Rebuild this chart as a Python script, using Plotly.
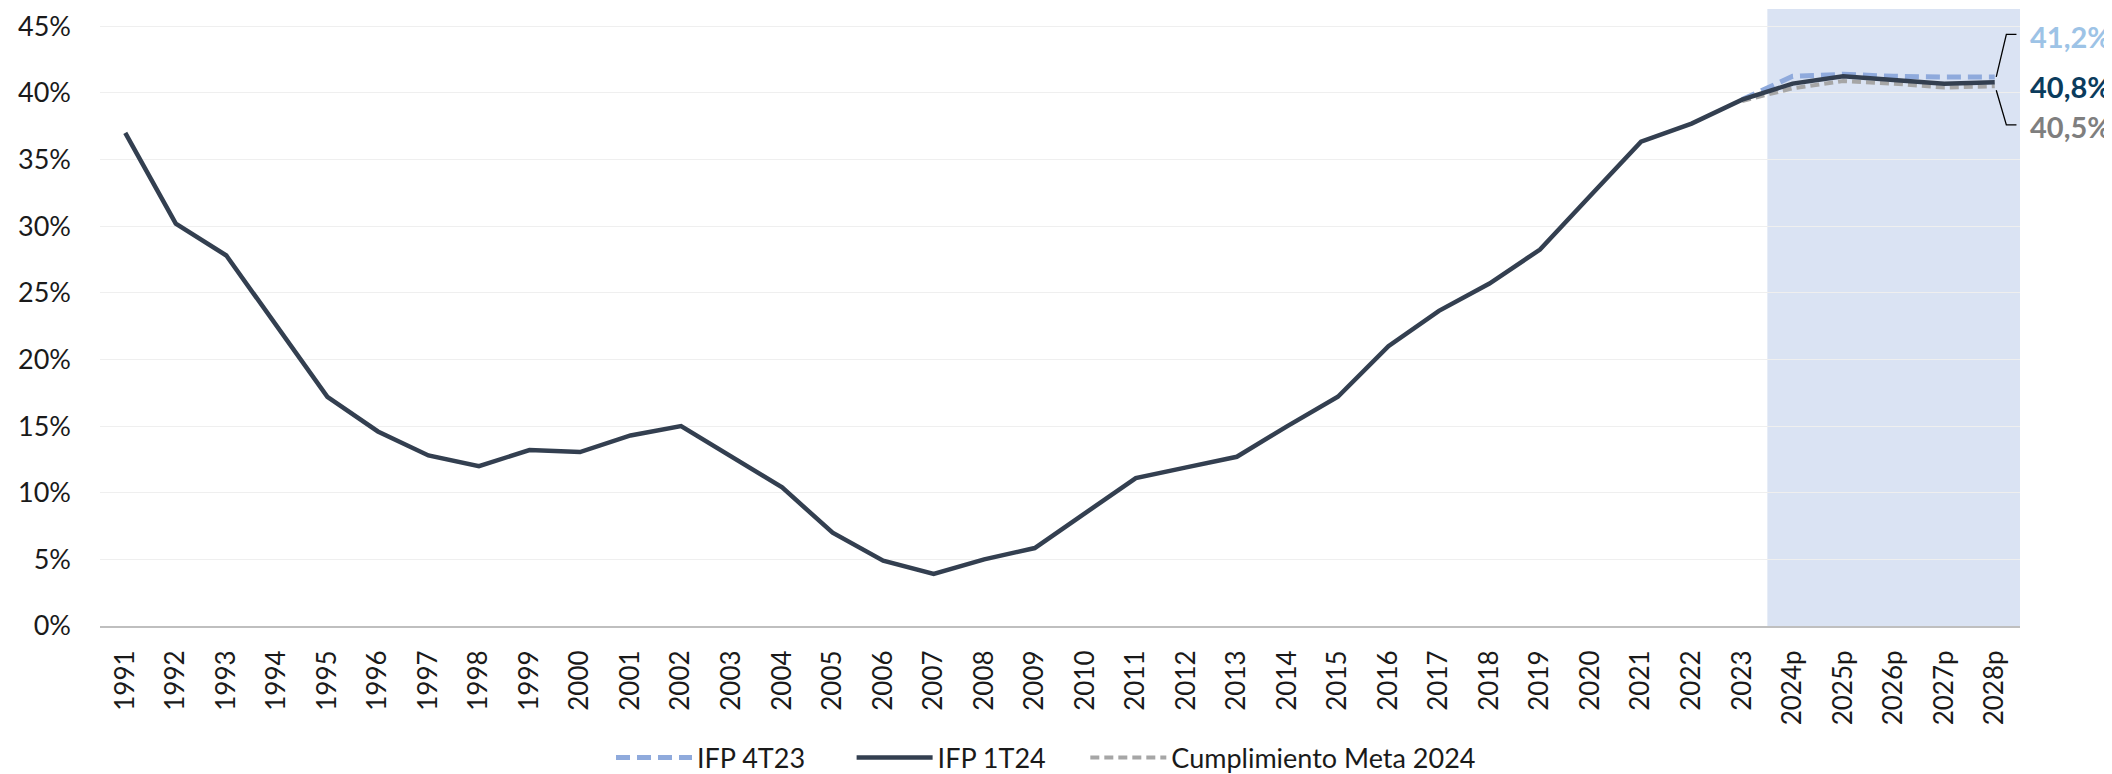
import plotly.graph_objects as go

years = [str(y) for y in range(1991, 2024)] + ["2024p", "2025p", "2026p", "2027p", "2028p"]

ifp_1t24 = [37.0, 30.2, 27.8, 22.5, 17.2, 14.6, 12.8, 12.0, 13.2, 13.05,
            14.3, 15.0, 12.7, 10.4, 7.0, 4.9, 3.9, 5.0, 5.85, 8.5,
            11.1, 11.9, 12.7, 15.0, 17.2, 21.0, 23.65, 25.7, 28.25, 32.3,
            36.35, 37.7, 39.5, 40.7, 41.25, 40.97, 40.7, 40.8]

ifp_4t23 = [None] * 32 + [39.5, 41.25, 41.4, 41.25, 41.2, 41.2]

meta_2024 = [None] * 32 + [39.4, 40.35, 40.9, 40.7, 40.4, 40.5]

y_ticks = [0, 5, 10, 15, 20, 25, 30, 35, 40, 45]
y_tick_text = [f"{v}%" for v in y_ticks]

C_BLUE = "#8FAADC"
C_DARK = "#333F50"
C_GRAY = "#A6A6A6"

FONT = "Lato"
NB = "\u00a0"

fig = go.Figure()

fig.add_trace(go.Scatter(
    x=years, y=ifp_4t23, name="IFP 4T23" + NB * 6, mode="lines",
    line=dict(color=C_BLUE, width=5, dash="14px,7px"),
    legendrank=1, connectgaps=False,
))
fig.add_trace(go.Scatter(
    x=years, y=meta_2024, name="Cumplimiento Meta 2024", mode="lines",
    line=dict(color=C_GRAY, width=4, dash="9px,5px"),
    legendrank=3, connectgaps=False,
))
fig.add_trace(go.Scatter(
    x=years, y=ifp_1t24, name="IFP 1T24" + NB * 5, mode="lines",
    line=dict(color=C_DARK, width=4.5),
    legendrank=2,
))

n = len(years)
# projection shading
fig.add_shape(type="rect", xref="x", yref="paper",
              x0=n - 5.5, x1=n - 0.5, y0=0, y1=1,
              fillcolor="#DAE3F3", line=dict(width=0), layer="below")

# end labels
def fmt(v):
    return f"{v:.1f}".replace(".", ",") + "%"

labels = [
    (fmt(ifp_4t23[-1]), "#9DC3E6", 44.2),
    (fmt(ifp_1t24[-1]), "#0B3C5D", 40.5),
    (fmt(meta_2024[-1]), "#7F7F7F", 37.5),
]
for txt, col, ypos in labels:
    fig.add_annotation(text=f"<b>{txt}</b>", xref="paper", yref="y",
                       x=1.004, y=ypos, xanchor="left", yanchor="middle",
                       showarrow=False,
                       font=dict(family=FONT, size=29, color=col))

# bracket connectors
last = n - 1
fig.add_shape(type="path", xref="x", yref="y",
              path=f"M {last + 0.43} 44.4 L {last + 0.23} 44.4 L {last + 0.03} 41.2",
              line=dict(color="#000000", width=1.3))
fig.add_shape(type="path", xref="x", yref="y",
              path=f"M {last + 0.03} 40.2 L {last + 0.23} 37.6 L {last + 0.43} 37.6",
              line=dict(color="#000000", width=1.3))

# page body has an 8px margin; figure is sized/offset to compensate
fig.update_layout(
    width=2104, height=800,
    margin=dict(l=92, r=92, t=1, b=182, autoexpand=False),
    paper_bgcolor="white", plot_bgcolor="white",
    font=dict(family=FONT, size=26, color="#1a1a1a"),
    showlegend=True,
    legend=dict(orientation="h", x=(603 - 92) / 1920, xanchor="left",
                y=-0.214, yanchor="middle",
                font=dict(family=FONT, size=27, color="#1a1a1a"),
                itemwidth=76,
                bgcolor="rgba(0,0,0,0)"),
)

fig.update_xaxes(type="category", categoryorder="array", categoryarray=years,
                 range=[-0.5, n - 0.5], tickangle=-90, automargin=False,
                 showgrid=False, showline=True, linecolor="#BFBFBF", linewidth=2,
                 ticks="", ticklabelstandoff=12,
                 tickfont=dict(family=FONT, size=26, color="#1a1a1a"))
fig.update_yaxes(range=[0, 46.3], tickvals=y_ticks, ticktext=y_tick_text,
                 automargin=False,
                 showgrid=True, gridcolor="#EFEFEF", gridwidth=1,
                 zeroline=False, showline=False, ticks="",
                 ticklabelstandoff=28,
                 tickfont=dict(family=FONT, size=27, color="#1a1a1a"))

fig.write_html("out.html")
